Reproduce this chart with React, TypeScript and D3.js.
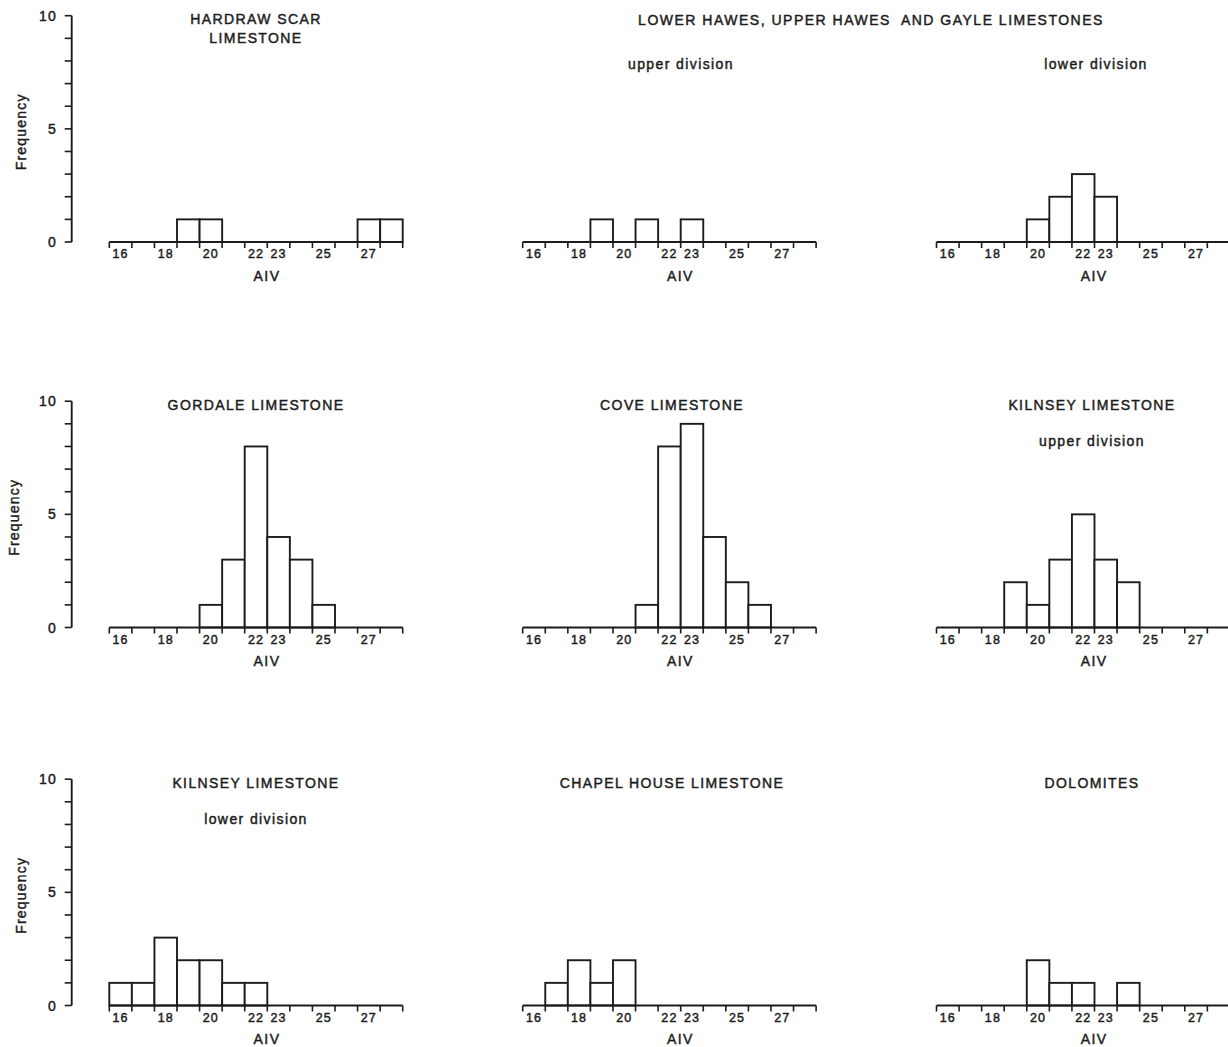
import React from "react";
import * as d3 from "d3";

// AIV class bins (one unit wide, 16 through 28) and the ones that carry a label
const bins = [16, 17, 18, 19, 20, 21, 22, 23, 24, 25, 26, 27, 28];
const labelledBins = [16, 18, 20, 22, 23, 25, 27];
const freqTicks = [0, 5, 10];

// Frequency of samples in each AIV bin, per formation
const hardraw = [0, 0, 0, 1, 1, 0, 0, 0, 0, 0, 0, 1, 1];
const hawesUpper = [0, 0, 0, 1, 0, 1, 0, 1, 0, 0, 0, 0, 0];
const hawesLower = [0, 0, 0, 0, 1, 2, 3, 2, 0, 0, 0, 0, 0];
const gordale = [0, 0, 0, 0, 1, 3, 8, 4, 3, 1, 0, 0, 0];
const cove = [0, 0, 0, 0, 0, 1, 8, 9, 4, 2, 1, 0, 0];
const kilnseyUpper = [0, 0, 0, 2, 1, 3, 5, 3, 2, 0, 0, 0, 0];
const kilnseyLower = [1, 1, 3, 2, 2, 1, 1, 0, 0, 0, 0, 0, 0];
const chapelHouse = [0, 1, 2, 1, 2, 0, 0, 0, 0, 0, 0, 0, 0];
const dolomites = [0, 0, 0, 0, 2, 1, 1, 0, 1, 0, 0, 0, 0];

type Panel = {
  row: number;
  col: number;
  counts: number[];
  title: string[];
  sub?: string;
};

const panels: Panel[] = [
  { row: 0, col: 0, counts: hardraw, title: ["HARDRAW SCAR", "LIMESTONE"] },
  { row: 0, col: 1, counts: hawesUpper, title: [], sub: "upper division" },
  { row: 0, col: 2, counts: hawesLower, title: [], sub: "lower division" },
  { row: 1, col: 0, counts: gordale, title: ["GORDALE LIMESTONE"] },
  { row: 1, col: 1, counts: cove, title: ["COVE LIMESTONE"] },
  { row: 1, col: 2, counts: kilnseyUpper, title: ["KILNSEY LIMESTONE"], sub: "upper division" },
  { row: 2, col: 0, counts: kilnseyLower, title: ["KILNSEY LIMESTONE"], sub: "lower division" },
  { row: 2, col: 1, counts: chapelHouse, title: ["CHAPEL HOUSE LIMESTONE"] },
  { row: 2, col: 2, counts: dolomites, title: ["DOLOMITES"] },
];

const groupHeader = "LOWER HAWES, UPPER HAWES  AND GAYLE LIMESTONES";

// Layout
const W = 1228;
const H = 1047;
const colX0 = [109.3, 522.7, 936.5];
const rowBase = [242, 627.5, 1005.5];
const binW = 22.57;
const plotH = 226.3;
const titleCx = [256, 672, 1092];
const topSubCx = [256, 681, 1096];
const yAxisX = 71.7;
const freqLabelX = [21, 14, 21];
const INK = "#1c1c1c";
const FONT = "'Liberation Sans', Arial, Helvetica, sans-serif";
const LINE_W = 1.9;

// slightly heavier lettering
const textStyle = { stroke: INK, strokeWidth: 0.45, paintOrder: "stroke" as const };

function HistPanel({ p }: { p: Panel }) {
  const x0 = colX0[p.col];
  const base = rowBase[p.row];
  const x = d3
    .scaleLinear()
    .domain([bins[0], bins[bins.length - 1] + 1])
    .range([x0, x0 + binW * bins.length]);
  const y = d3.scaleLinear().domain([0, 10]).range([base, base - plotH]);
  const [xa, xb] = x.range();
  const boundaries = d3.range(bins[0], bins[bins.length - 1] + 2);
  const cx = titleCx[p.col];
  const subCx = p.row === 0 ? topSubCx[p.col] : cx;
  const titleBase = base - 218;
  const subBase = p.row === 0 ? base - 173 : base - 181.5;

  return (
    <g>
      {/* bars */}
      {p.counts.map((c, i) =>
        c > 0 ? (
          <rect
            key={"b" + i}
            x={x(bins[i])}
            y={y(c)}
            width={x(bins[i] + 1) - x(bins[i])}
            height={y(0) - y(c)}
            fill="#fff"
            stroke={INK}
            strokeWidth={LINE_W}
          />
        ) : null
      )}
      {/* x axis line and bin-boundary ticks */}
      <line x1={xa} x2={xb} y1={base} y2={base} stroke={INK} strokeWidth={LINE_W} />
      {boundaries.map((b) => (
        <line
          key={"t" + b}
          x1={x(b)}
          x2={x(b)}
          y1={base}
          y2={base + 6}
          stroke={INK}
          strokeWidth={1.6}
        />
      ))}
      {labelledBins.map((b) => (
        <text
          key={"l" + b}
          x={(x(b) + x(b + 1)) / 2}
          y={base + 16.3}
          textAnchor="middle"
          fontSize={12.5}
          letterSpacing={1.1}
          fill={INK}
          style={textStyle}
        >
          {b}
        </text>
      ))}
      <text
        x={(xa + xb) / 2 + 11}
        y={base + 38.8}
        textAnchor="middle"
        fontSize={14}
        letterSpacing={1.4}
        fill={INK}
        style={textStyle}
      >
        AIV
      </text>

      {/* y axis only on the first column */}
      {p.col === 0 && (
        <g>
          <line x1={yAxisX} x2={yAxisX} y1={y(10)} y2={y(0)} stroke={INK} strokeWidth={LINE_W} />
          {d3.range(0, 11).map((v) => (
            <line
              key={"yt" + v}
              x1={yAxisX - 7}
              x2={yAxisX}
              y1={y(v)}
              y2={y(v)}
              stroke={INK}
              strokeWidth={1.6}
            />
          ))}
          {freqTicks.map((v) => (
            <text
              key={"yl" + v}
              x={57}
              y={y(v) + 5}
              textAnchor="end"
              fontSize={14}
              letterSpacing={1.2}
              fill={INK}
              style={textStyle}
            >
              {v}
            </text>
          ))}
          <text
            transform={`translate(${freqLabelX[p.row]},${(y(0) + y(10)) / 2 + 3}) rotate(-90)`}
            textAnchor="middle"
            dominantBaseline="central"
            fontSize={14}
            letterSpacing={1.2}
            fill={INK}
            style={textStyle}
          >
            Frequency
          </text>
        </g>
      )}

      {/* titles */}
      {p.title.map((t, i) => (
        <text
          key={"ti" + i}
          x={cx}
          y={titleBase + i * 18.5}
          textAnchor="middle"
          fontSize={14}
          letterSpacing={1.4}
          fill={INK}
          style={textStyle}
        >
          {t}
        </text>
      ))}
      {p.sub && (
        <text
          x={subCx}
          y={subBase}
          textAnchor="middle"
          fontSize={14}
          letterSpacing={1.4}
          fill={INK}
          style={textStyle}
        >
          {p.sub}
        </text>
      )}
    </g>
  );
}

export default function App() {
  return (
    <svg
      width={W}
      height={H}
      viewBox={`0 0 ${W} ${H}`}
      style={{ position: "absolute", left: 0, top: 0, background: "#fff", fontFamily: FONT }}
    >
      <rect x={0} y={0} width={W} height={H} fill="#fff" />
      <text
        x={871}
        y={25}
        textAnchor="middle"
        fontSize={14}
        letterSpacing={1.5}
        fill={INK}
        style={{ ...textStyle, whiteSpace: "pre" }}
      >
        {groupHeader}
      </text>
      {panels.map((p, i) => (
        <HistPanel key={i} p={p} />
      ))}
    </svg>
  );
}
